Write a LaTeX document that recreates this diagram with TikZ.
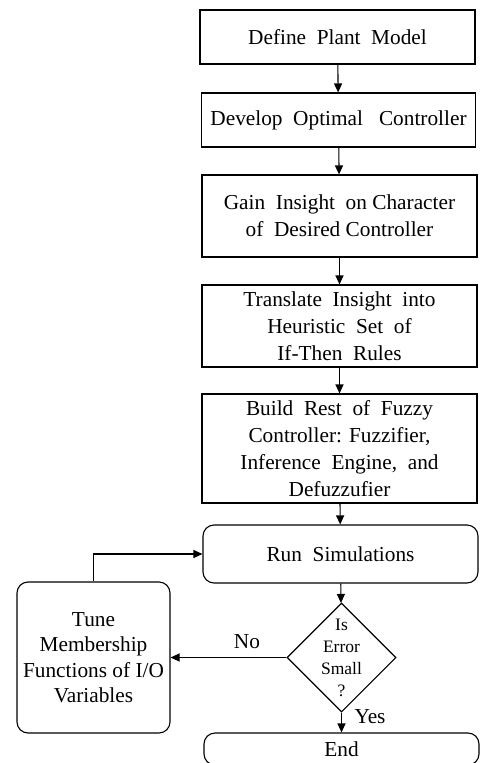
\documentclass[tikz,border=0pt]{standalone}
\usepackage{fontspec}
\setmainfont{Liberation Serif}
\usetikzlibrary{shapes.geometric,arrows.meta}
\begin{document}
\begin{tikzpicture}[x=1pt,y=-1pt,
  every path/.style={line width=1.1pt},
  stepbox/.style={draw,line width=1.1pt,rectangle,inner sep=0pt,align=center,font=\fontsize{21.3}{27}\selectfont},
  roundbox/.style={stepbox,rounded corners=11pt},
  lbl/.style={font=\fontsize{21.3}{24}\selectfont,inner sep=0pt},
  arr/.style={-{Triangle[length=9pt,width=8pt]},line width=1.1pt}]
\useasboundingbox (0,0) rectangle (480,763);
\node[stepbox,minimum width=275pt,minimum height=54pt] (b1) at (337.5,37) {Define~ Plant~ Model};
\node[stepbox,minimum width=274pt,minimum height=54pt] (b2) at (338.5,120) {Develop~ Optimal~~ Controller};
\node[stepbox,minimum width=275pt,minimum height=82pt] (b3) at (339.5,216) {Gain~ Insight~ on Character\\ of~ Desired Controller};
\node[stepbox,minimum width=275pt,minimum height=82pt] (b4) at (339.5,326) {Translate~ Insight~ into\\Heuristic~ Set~ of\\If-Then~ Rules};
\node[stepbox,minimum width=275pt,minimum height=109pt] (b5) at (339.5,448.5) {Build~ Rest~ of~ Fuzzy\\Controller: Fuzzifier,\\Inference~ Engine,~ and\\Defuzzufier};
\node[roundbox,minimum width=275pt,minimum height=58pt] (run) at (340.5,554) {Run~ Simulations};
\node[draw,diamond,inner sep=0pt,minimum width=109pt,minimum height=109pt,line width=1.1pt] (dia) at (341.5,657.5) {};
\node[align=center,font=\fontsize{17.5}{21.8}\selectfont,inner sep=0pt] (diatext) at (341.5,658) {Is\\Error\\Small\\?};
\node[roundbox,minimum width=153pt,minimum height=151pt,font=\fontsize{21.3}{25.5}\selectfont] (tune) at (93.5,657.5) {Tune\\Membership\\Functions of I/O\\Variables};
\node[roundbox,minimum width=275pt,minimum height=32pt] (end) at (341.5,749) {End};
\draw[arr] (b1) -- (b2);
\draw[arr] (b2) -- (b3);
\draw[arr] (b3) -- (b4);
\draw[arr] (b4) -- (b5);
\draw[arr] (b5) -- (run);
\draw[arr] (run) -- (dia);
\draw[arr] (dia.west) -- (tune.east);
\node[lbl] (no) at (247,642) {No};
\draw[arr] (dia.south) -- (end.north);
\node[lbl] (yes) at (370,717) {Yes};
\draw[arr] (tune.north) |- (run.west);
\end{tikzpicture}
\end{document}
